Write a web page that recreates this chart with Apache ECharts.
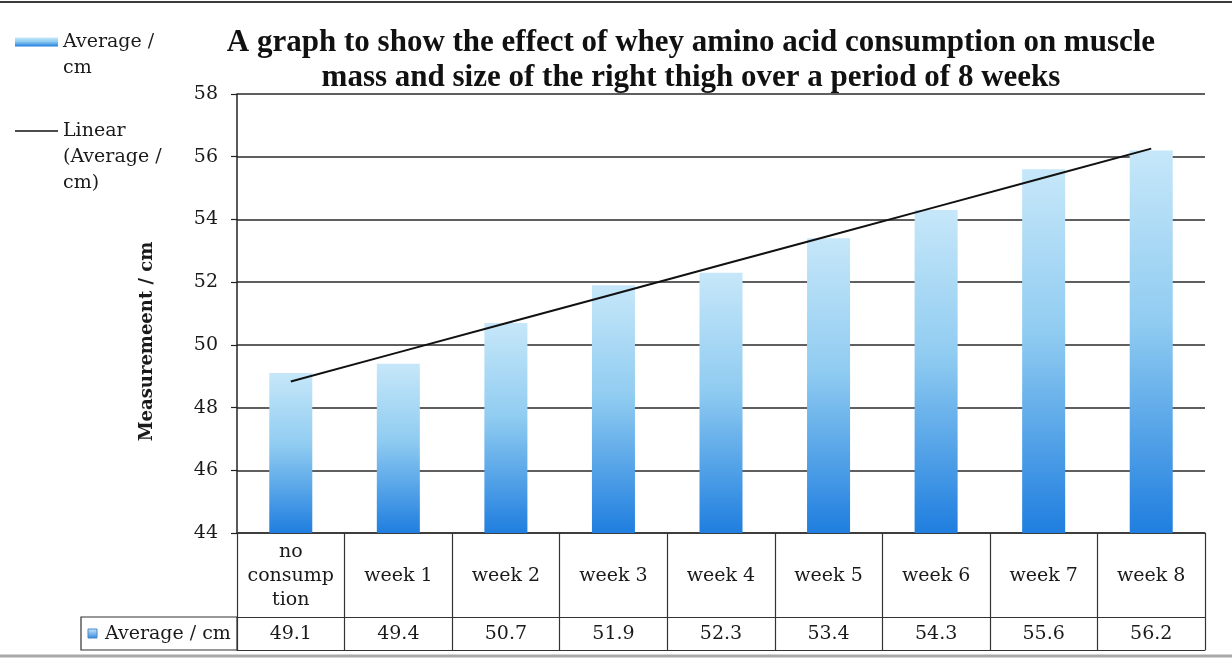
<!DOCTYPE html>
<html>
<head>
<meta charset="utf-8">
<script src="https://cdn.jsdelivr.net/npm/echarts@6/dist/echarts.min.js"></script>
<style>
  html, body { margin: 0; padding: 0; background: #fff; }
  #chart { width: 1232px; height: 659px; }
</style>
</head>
<body>
<div id="chart"></div>
<script>
// ---- data ----
const categories = ['no consumption', 'week 1', 'week 2', 'week 3', 'week 4', 'week 5', 'week 6', 'week 7', 'week 8'];
const averageCm = [49.1, 49.4, 50.7, 51.9, 52.3, 53.4, 54.3, 55.6, 56.2];
const yMin = 44, yMax = 58, yStep = 2;
const barName = 'Average / cm';
const trendName = 'Linear (Average / cm)';
const titleText = 'A graph to show the effect of whey amino acid consumption on muscle\nmass and size of the right thigh over a period of 8 weeks';
const yAxisName = 'Measuremeent / cm';

// ---- layout ----
const W = 1232, H = 659;
const plotLeft = 237, plotRight = 1205, plotTop = 94, plotBottom = 533;
const rowSplit = 617, tableBottom = 650, tableLeft = 81;
const serif = 'DejaVu Serif';
const ink = '#1a1a1a';
const fs = 19;

// least-squares linear trend over category index
function linearTrend(ys) {
  const n = ys.length;
  const mx = (n - 1) / 2;
  const my = ys.reduce((a, b) => a + b, 0) / n;
  let num = 0, den = 0;
  ys.forEach((y, i) => { num += (i - mx) * (y - my); den += (i - mx) * (i - mx); });
  const slope = num / den;
  return ys.map((_, i) => +(my + slope * (i - mx)).toFixed(4));
}
const trend = linearTrend(averageCm);

// wrap a category name into short lines, padded to a fixed row count so it sits mid-cell
function wrapCell(name, maxChars, rows) {
  const pieces = [];
  name.split(' ').forEach(w => {
    if (w.length <= maxChars) pieces.push(w);
    else for (let i = 0; i < w.length; i += maxChars) pieces.push(w.slice(i, i + maxChars));
  });
  const lines = [];
  pieces.forEach(p => {
    const last = lines[lines.length - 1];
    if (last !== undefined && (last + ' ' + p).length <= maxChars) lines[lines.length - 1] = last + ' ' + p;
    else lines.push(p);
  });
  while (lines.length < rows) { lines.unshift(''); if (lines.length < rows) lines.push(''); }
  return lines.join('\n');
}

const barGradient = new echarts.graphic.LinearGradient(0, 0, 0, 1, [
  { offset: 0, color: '#c6e7f9' },
  { offset: 0.45, color: '#90ccf1' },
  { offset: 1, color: '#1f7edf' }
]);

const chart = echarts.init(document.getElementById('chart'), null, { renderer: 'canvas', width: W, height: H });

chart.setOption({
  backgroundColor: '#ffffff',
  animation: false,
  title: {
    text: titleText,
    left: 691,
    top: 25,
    padding: 0,
    textAlign: 'center',
    textStyle: {
      fontFamily: 'Liberation Serif',
      fontWeight: 'bold',
      fontSize: 31,
      lineHeight: 35,
      color: '#111'
    }
  },
  legend: [
    {
      data: [{ name: barName, icon: 'rect' }],
      orient: 'vertical',
      left: 15,
      top: 3,
      padding: 0,
      itemWidth: 43,
      itemHeight: 9,
      itemGap: 0,
      selectedMode: false,
      formatter: () => '\nAverage /\ncm',
      textStyle: { fontFamily: serif, fontSize: fs, lineHeight: 26, color: ink }
    },
    {
      data: [{ name: trendName, icon: 'path://M0,0 L43,0 L43,1.6 L0,1.6 Z' }],
      orient: 'vertical',
      left: 15,
      top: 66,
      padding: 0,
      itemWidth: 43,
      itemHeight: 9,
      itemGap: 0,
      selectedMode: false,
      formatter: () => '\n\nLinear\n(Average /\ncm)',
      textStyle: { fontFamily: serif, fontSize: fs, lineHeight: 26, color: ink }
    }
  ],
  grid: {
    left: plotLeft,
    right: W - plotRight,
    top: plotTop,
    bottom: H - plotBottom,
    containLabel: false
  },
  xAxis: [
    {
      type: 'category',
      data: categories,
      position: 'bottom',
      boundaryGap: true,
      axisLine: { show: true, lineStyle: { color: '#333', width: 1.5 } },
      axisTick: { show: true, interval: 0, length: tableBottom - plotBottom, lineStyle: { color: '#333', width: 1.2 } },
      axisLabel: {
        interval: 0,
        margin: 7,
        fontFamily: serif,
        fontSize: fs,
        lineHeight: 24,
        color: ink,
        formatter: (v) => wrapCell(v, 7, 3)
      },
      splitLine: { show: false }
    },
    {
      type: 'category',
      data: categories,
      position: 'bottom',
      offset: rowSplit - plotBottom,
      boundaryGap: true,
      axisLine: { show: true, lineStyle: { color: '#333', width: 1.2 } },
      axisTick: { show: false },
      axisLabel: {
        interval: 0,
        margin: 6,
        fontFamily: serif,
        fontSize: fs,
        lineHeight: 22,
        color: ink,
        formatter: (v, i) => averageCm[i].toFixed(1)
      }
    },
    {
      type: 'category',
      data: categories,
      position: 'bottom',
      offset: tableBottom - plotBottom,
      boundaryGap: true,
      axisLine: { show: true, lineStyle: { color: '#333', width: 1.2 } },
      axisTick: { show: false },
      axisLabel: { show: false }
    }
  ],
  yAxis: {
    type: 'value',
    min: yMin,
    max: yMax,
    interval: yStep,
    name: yAxisName,
    nameLocation: 'middle',
    nameRotate: 90,
    nameGap: 81,
    nameTextStyle: { fontFamily: serif, fontWeight: 'bold', fontSize: 18, color: ink, padding: [0, 56, 0, 0] },
    axisLine: { show: true, lineStyle: { color: '#222', width: 1.5 } },
    axisTick: { show: true, length: 6, lineStyle: { color: '#222', width: 1.2 } },
    axisLabel: { margin: 19, fontFamily: serif, fontSize: fs, color: ink },
    splitLine: { show: true, lineStyle: { color: '#2a2a2a', width: 1.5 } }
  },
  series: [
    {
      name: barName,
      type: 'bar',
      data: averageCm,
      barWidth: '40%',
      itemStyle: { color: barGradient },
      z: 2
    },
    {
      name: trendName,
      type: 'line',
      data: trend,
      symbol: 'none',
      showSymbol: false,
      lineStyle: { color: '#111', width: 2 },
      itemStyle: { color: '#111' },
      z: 3
    }
  ],
  graphic: [
    { type: 'line', shape: { x1: 0, y1: 2, x2: W, y2: 2 }, style: { stroke: '#3c3c3c', lineWidth: 2 }, silent: true },
    { type: 'line', shape: { x1: 0, y1: 656, x2: W, y2: 656 }, style: { stroke: '#a8a8a8', lineWidth: 3 }, silent: true },
    { type: 'rect', shape: { x: tableLeft, y: rowSplit, width: plotLeft - tableLeft, height: tableBottom - rowSplit }, style: { fill: 'none', stroke: '#333', lineWidth: 1.2 }, silent: true },
    {
      type: 'rect', shape: { x: 88, y: 629, width: 9, height: 9 },
      style: {
        fill: new echarts.graphic.LinearGradient(0, 0, 0, 1, [{ offset: 0, color: '#cdeaf9' }, { offset: 1, color: '#2f86e0' }]),
        stroke: '#4a86c8', lineWidth: 1
      },
      silent: true
    },
    {
      type: 'text', x: 105, y: (rowSplit + tableBottom) / 2 + 1,
      style: { text: barName, font: fs + 'px "DejaVu Serif"', fill: ink, verticalAlign: 'middle', align: 'left' },
      silent: true
    }
  ]
});
</script>
</body>
</html>
